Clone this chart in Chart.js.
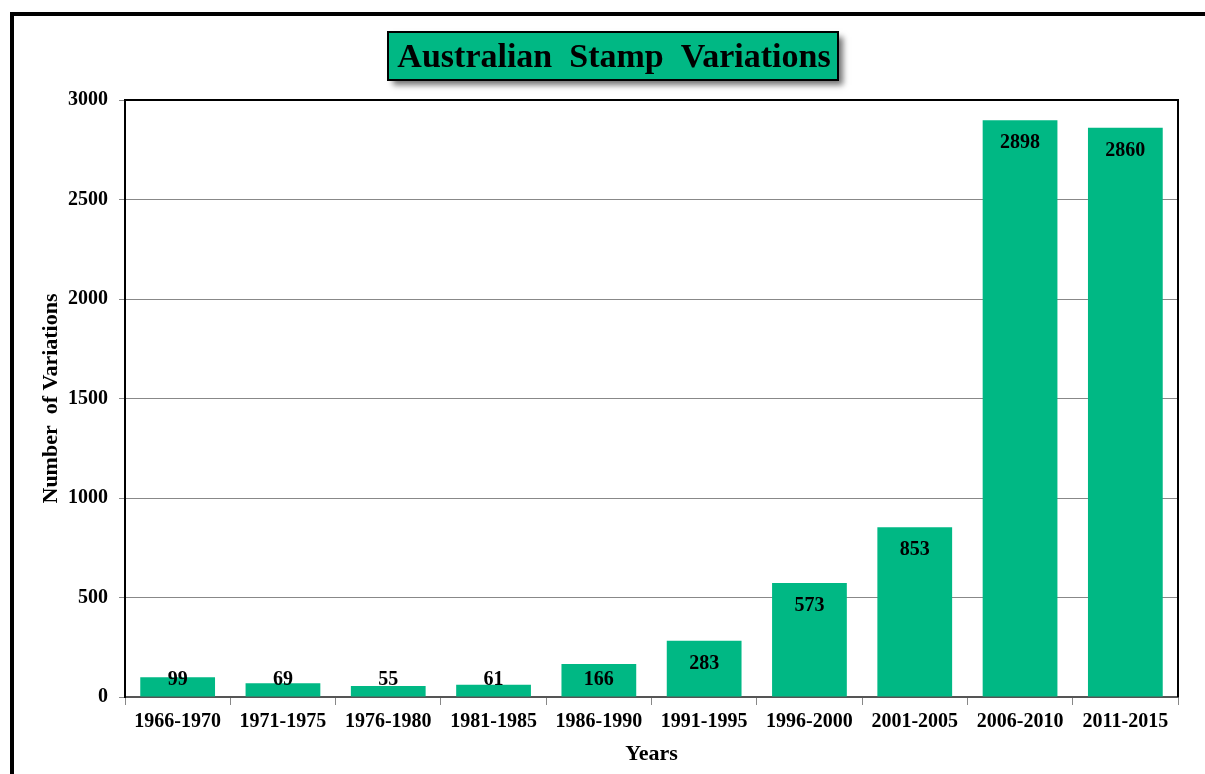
<!DOCTYPE html>
<html>
<head>
<meta charset="utf-8">
<script src="https://cdn.jsdelivr.net/npm/chart.js@4"></script>
<style>
  html, body { margin: 0; padding: 0; background: #fff; }
  #wrap { width: 1205px; height: 774px; }
</style>
</head>
<body>
<div id="wrap"><canvas id="myChart" width="1205" height="774"></canvas></div>
<script>
// chart data
var periods = ["1966-1970", "1971-1975", "1976-1980", "1981-1985", "1986-1990",
               "1991-1995", "1996-2000", "2001-2005", "2006-2010", "2011-2015"];
var variations = [99, 69, 55, 61, 166, 283, 573, 853, 2898, 2860];
var yTicks = [0, 500, 1000, 1500, 2000, 2500, 3000];
var chartTitle = "Australian  Stamp  Variations";

var GREEN = "#00B884";
var SERIF = "'Liberation Serif', 'Times New Roman', serif";

// frame, title box, plot border and value labels
var decor = {
	id: "decor",
	beforeDraw: function(chart){
		var c = chart.ctx;
		c.save();
		c.fillStyle = "#fff";
		c.fillRect(0, 0, chart.width, chart.height);
		c.strokeStyle = "#000";
		c.lineWidth = 4;
		c.strokeRect(12, 14, 1300, 900);
		c.restore();
	},
	afterDraw: function(chart){
		var c = chart.ctx;
		var a = chart.chartArea;
		c.save();
		// plot border top and right
		c.strokeStyle = "#000";
		c.lineWidth = 2;
		c.beginPath();
		c.moveTo(a.left, a.top);
		c.lineTo(a.right, a.top);
		c.lineTo(a.right, a.bottom);
		c.stroke();

		// title box with shadow
		var bx = 388, by = 32, bw = 450, bh = 48;
		c.save();
		c.shadowColor = "rgba(0,0,0,0.55)";
		c.shadowBlur = 6;
		c.shadowOffsetX = 5;
		c.shadowOffsetY = 5;
		c.fillStyle = GREEN;
		c.fillRect(bx, by, bw, bh);
		c.restore();
		c.lineWidth = 2;
		c.strokeStyle = "#000";
		c.strokeRect(bx, by, bw, bh);
		c.fillStyle = "#000";
		c.font = "bold 34px " + SERIF;
		c.textAlign = "center";
		c.textBaseline = "middle";
		c.fillText(chartTitle, bx + bw / 2 + 1, by + bh / 2 + 2);

		// value labels, inside the bar end, kept above the base for short bars
		var meta = chart.getDatasetMeta(0);
		c.font = "bold 20px " + SERIF;
		meta.data.forEach(function(bar, i){
			var y = Math.min(bar.y + 23, a.bottom - 17);
			c.fillText(String(variations[i]), bar.x, y);
		});
		c.restore();
	}
};

var ctx = document.getElementById("myChart");
var myChart = new Chart(ctx, {
	type: "bar",
	data: {
		labels: periods,
		datasets: [{
			label: "Variations",
			data: variations,
			backgroundColor: GREEN,
			borderWidth: 0,
			barPercentage: 0.71,
			categoryPercentage: 1.0
		}]
	},
	options: {
		responsive: false,
		animation: false,
		layout: { padding: { top: 100, right: 27, left: 0, bottom: 0 } },
		plugins: {
			legend: { display: false },
			tooltip: { enabled: false }
		},
		scales: {
			x: {
				grid: {
					display: true,
					offset: true,
					drawOnChartArea: false,
					drawTicks: true,
					tickLength: 8,
					color: "#888"
				},
				border: { color: "#555", width: 2 },
				ticks: {
					color: "#000",
					padding: 5,
					maxRotation: 0,
					autoSkip: false,
					font: { family: SERIF, size: 20, weight: "bold" }
				},
				title: {
					display: true,
					text: "Years",
					color: "#000",
					padding: { top: 0, bottom: 6 },
					font: { family: SERIF, size: 22, weight: "bold" }
				},
				afterFit: function(s){ s.height = 774 - 697; }
			},
			y: {
				min: 0,
				max: 3000,
				afterBuildTicks: function(s){
					s.ticks = yTicks.map(function(v){ return { value: v }; });
				},
				grid: {
					color: "#888",
					lineWidth: 1,
					tickLength: 6
				},
				border: { color: "#000", width: 2 },
				ticks: {
					color: "#000",
					padding: 11,
					callback: function(v){ return String(v); },
					font: { family: SERIF, size: 20, weight: "bold" }
				},
				title: {
					display: true,
					text: "Number  of Variations",
					color: "#000",
					padding: { top: 38, bottom: 0 },
					font: { family: SERIF, size: 22, weight: "bold" }
				},
				afterFit: function(s){ s.width = 125; }
			}
		}
	},
	plugins: [decor]
});
</script>
</body>
</html>
